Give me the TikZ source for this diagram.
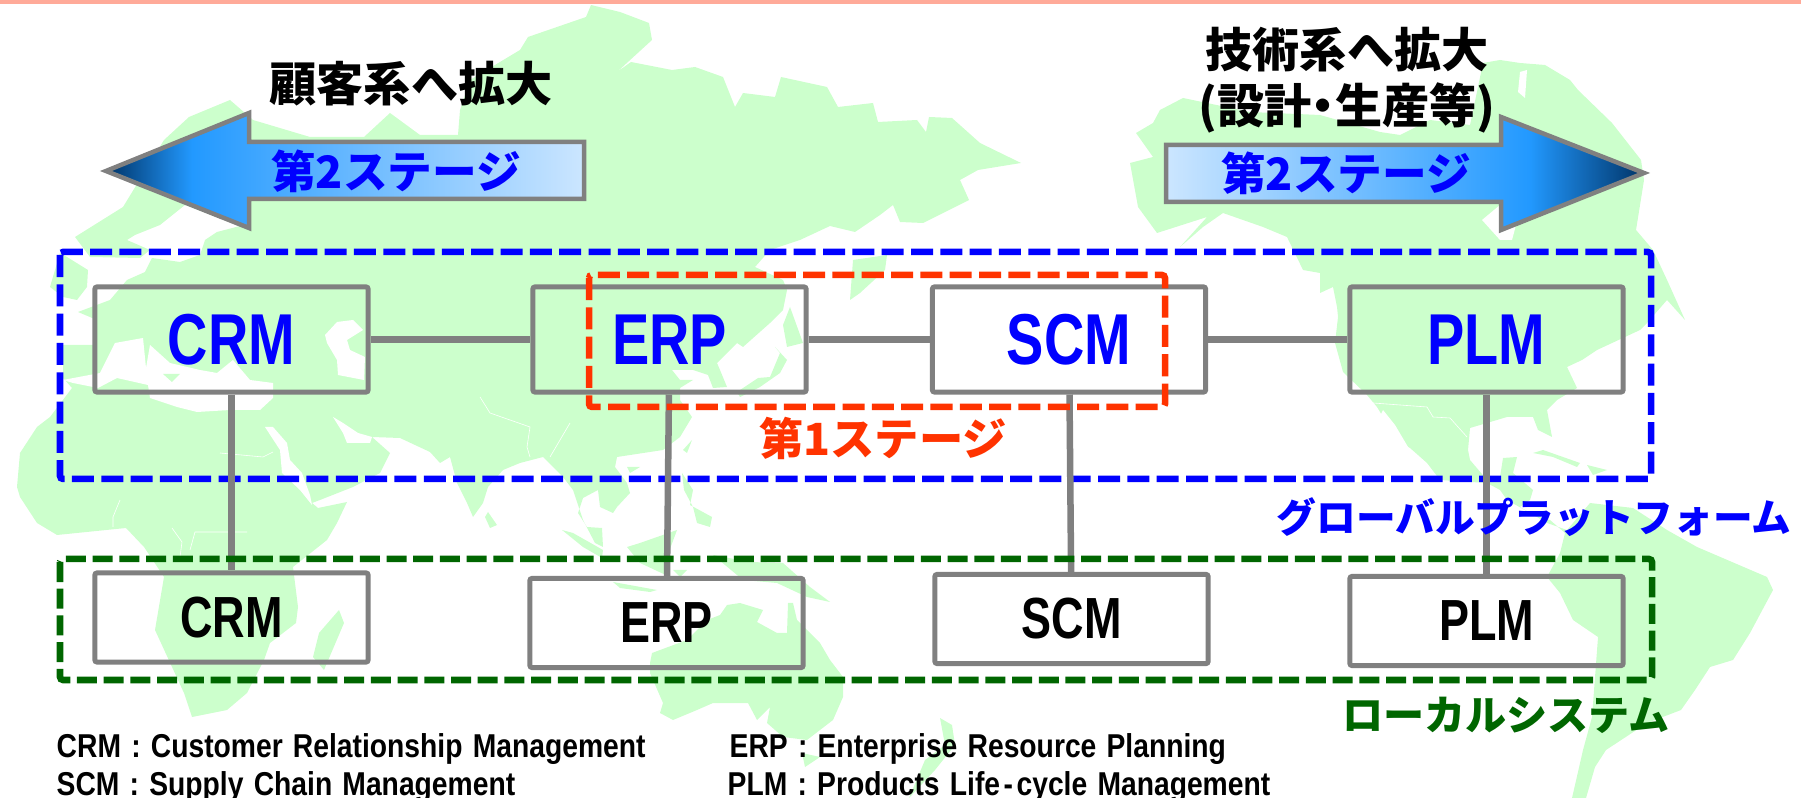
\documentclass[tikz,border=0pt]{standalone}
\usepackage{fontspec}
\setmainfont{Liberation Sans}
\newfontfamily\cjkfont[BoldFont={Noto Sans CJK JP Black}]{Noto Sans CJK JP}
\newfontfamily\narrowfont[FakeStretch=0.775]{Liberation Sans}
\newfontfamily\footfont[FakeStretch=0.855,WordSpace=1.3]{Liberation Sans}
\definecolor{landgreen}{HTML}{CCFFCC}
\definecolor{topband}{HTML}{FFAA99}
\definecolor{boxgray}{HTML}{808080}
\definecolor{stagered}{HTML}{FF3300}
\definecolor{localgreen}{HTML}{006600}
\definecolor{tipnavy}{HTML}{003366}
\definecolor{midblue}{HTML}{2299FF}
\definecolor{paleblue}{HTML}{CCE6FF}
\pgfdeclarehorizontalshading{stageleft}{100bp}{color(0bp)=(tipnavy); color(25bp)=(tipnavy); color(34bp)=(midblue); color(75bp)=(paleblue); color(100bp)=(paleblue)}
\pgfdeclarehorizontalshading{stageright}{100bp}{color(0bp)=(paleblue); color(25bp)=(paleblue); color(63bp)=(midblue); color(75bp)=(tipnavy); color(100bp)=(tipnavy)}
\tikzset{
  land/.style={fill=landgreen},
  sea/.style={fill=white},
  border/.style={draw=white, line width=0.006cm},
  sysbox/.style={draw=boxgray, line width=0.05cm, rounded corners=0.02cm, minimum width=2.73cm, inner sep=0pt},
  globalbox/.style={sysbox, minimum height=1.05cm, text=blue, font=\narrowfont\bfseries\fontsize{20.5pt}{20.5pt}\selectfont},
  localbox/.style={sysbox, minimum height=0.89cm, font=\narrowfont\bfseries\fontsize{16.5pt}{16.5pt}\selectfont},
  link/.style={draw=boxgray, line width=0.065cm},
  frame/.style={line width=0.065cm, rounded corners=0.03cm, dash pattern=on 0.22cm off 0.073cm},
  stagearrow/.style={draw=boxgray, line width=0.045cm},
  cjklabel/.style={inner sep=0pt, font=\cjkfont\bfseries\fontsize{#1}{#1}\selectfont},
  footnote/.style={inner sep=0pt, anchor=base west, font=\footfont\bfseries\fontsize{9.4pt}{9.4pt}\selectfont}
}
\begin{document}
\begin{tikzpicture}[x=0.01cm,y=-0.01cm]
\useasboundingbox (0,0) rectangle (1801,798);
\fill[topband] (0,0) rectangle (1801,4);

% world map
\fill[land] plot coordinates {(123,207) (164,140) (189,117) (230,100) (253,120) (310,137) (364,137) (390,113) (420,135) (458,135) (460,110) (470,80) (520,50) (528,37) (586,17) (591,5) (620,12) (649,23) (652,40) (617,72) (631,62) (672,70) (695,67) (723,77) (735,107) (743,93) (775,97) (781,77) (827,87) (838,107) (873,103) (878,122) (917,120) (926,132) (929,117) (952,118) (980,143) (1021,163) (978,170) (960,180) (969,200) (923,223) (900,222) (893,205) (880,215) (855,232) (830,226) (800,240) (770,250) (755,267) (783,280) (787,290) (783,310) (770,323) (743,347) (737,343) (717,363) (720,370) (727,387) (713,388) (708,375) (693,370) (672,370) (680,380) (693,380) (680,388) (680,400) (692,417) (680,437) (663,450) (617,457) (615,467) (627,483) (630,493) (617,507) (613,513) (600,507) (598,490) (583,498) (578,513) (587,527) (602,528) (603,547) (595,543) (583,520) (573,490) (563,477) (543,457) (520,463) (503,470) (488,487) (483,503) (473,517) (467,503) (457,483) (450,457) (440,463) (430,452) (400,438) (372,437) (390,453) (380,473) (353,487) (320,500) (312,503) (318,508) (347,502) (337,523) (327,540) (293,567) (298,607) (296,623) (270,643) (264,660) (247,693) (227,710) (192,717) (184,693) (155,630) (164,577) (144,547) (126,528) (57,535) (37,523) (20,497) (17,487) (20,453) (37,427) (50,417) (72,388) (63,378) (63,345) (93,345) (97,320) (78,312) (110,300) (127,280) (145,272) (152,258) (180,262) (200,255) (205,240) (217,232) (240,226) (185,205) (160,225) (135,235) (127,240) (150,250) (140,258) (90,257) (75,237)} -- cycle;
\fill[land] plot coordinates {(50,287) (60,253) (67,257) (88,270) (87,287) (77,300) (63,297)} -- cycle; % britain
\fill[sea] plot coordinates {(63,380) (100,373) (110,353) (115,343) (143,338) (146,368) (150,345) (170,363) (200,370) (217,373) (233,360) (250,380) (273,383) (273,398) (260,410) (230,410) (197,412) (177,407) (150,398) (148,385) (117,378) (98,388) (73,383)} -- cycle;
\fill[land] plot coordinates {(163,374) (180,374) (172,382)} -- cycle;
\fill[sea] plot coordinates {(325,335) (337,322) (353,320) (363,330) (347,340) (350,350) (365,357) (364,380) (338,375) (337,360) (327,343)} -- cycle;
\fill[sea] plot coordinates {(265,427) (273,427) (287,443) (290,460) (302,473) (310,495) (312,505) (300,490) (282,473) (280,450)} -- cycle;
\fill[sea] plot coordinates {(333,417) (343,423) (358,433) (372,437) (370,443) (347,443) (343,433)} -- cycle;
\fill[land] plot coordinates {(339,610) (344,623) (324,670) (313,657) (319,633)} -- cycle; % madagascar
\fill[land] plot coordinates {(488,512) (497,525) (490,528) (485,517)} -- cycle;
\fill[land] plot coordinates {(790,307) (803,343) (787,347) (783,325)} -- cycle; % japan
\fill[land] plot coordinates {(775,347) (787,360) (780,373) (760,387) (740,397) (737,392) (758,378) (770,377) (780,353)} -- cycle;
\fill[land] plot coordinates {(853,260) (887,255) (885,270) (860,293) (850,300)} -- cycle;
\fill[land] plot coordinates {(683,450) (692,440) (687,453)} -- cycle;
\fill[land] plot coordinates {(627,467) (640,467) (630,473)} -- cycle;
\fill[land] plot coordinates {(682,473) (693,490) (690,505) (712,517) (710,527) (697,523) (693,507) (684,490)} -- cycle;
\fill[land] plot coordinates {(562,530) (573,533) (603,550) (602,558) (583,547)} -- cycle; % sumatra
\fill[land] plot coordinates {(613,582) (657,590) (650,592) (620,588)} -- cycle;
\fill[land] plot coordinates {(627,547) (640,543) (677,530) (667,557) (670,577) (640,563)} -- cycle;
\fill[land] plot coordinates {(673,570) (687,570) (680,577)} -- cycle;
\fill[land] plot coordinates {(713,555) (750,562) (783,563) (810,587) (830,602) (807,597) (777,583) (743,580)} -- cycle;
\fill[land] plot coordinates {(650,663) (652,653) (687,640) (707,620) (720,615) (727,605) (740,603) (763,610) (757,622) (777,633) (787,633) (788,603) (793,603) (797,620) (820,643) (830,660) (843,677) (843,697) (833,720) (807,740) (783,737) (767,723) (770,707) (757,720) (748,703) (713,703) (697,710) (673,720) (660,713) (663,703) (650,673)} -- cycle; % australia
\fill[land] plot coordinates {(802,753) (820,757) (805,767)} -- cycle;
\fill[land] plot coordinates {(940,718) (952,725) (955,745) (935,770) (909,798) (925,760) (945,745)} -- cycle;
% americas
\fill[land] plot coordinates {(1136,133) (1153,123) (1160,110) (1183,98) (1250,112) (1320,115) (1380,132) (1400,135) (1430,120) (1470,125) (1483,63) (1500,60) (1520,63) (1545,65) (1570,80) (1578,90) (1612,123) (1641,160) (1644,180) (1636,230) (1653,250) (1667,280) (1685,320) (1667,300) (1647,323) (1640,330) (1597,350) (1582,360) (1567,367) (1577,388) (1557,400) (1547,410) (1552,437) (1538,430) (1533,417) (1507,417) (1470,428) (1468,450) (1470,460) (1487,480) (1500,477) (1503,458) (1517,457) (1513,473) (1533,490) (1530,500) (1520,507) (1547,523) (1567,530) (1590,503) (1633,508) (1667,530) (1697,547) (1767,577) (1773,590) (1750,633) (1733,660) (1710,667) (1695,690) (1681,710) (1647,723) (1606,750) (1595,767) (1586,798) (1572,798) (1583,750) (1592,717) (1598,637) (1573,620) (1560,593) (1547,577) (1560,553) (1565,533) (1550,520) (1530,513) (1507,500) (1500,490) (1487,483) (1440,480) (1427,463) (1410,448) (1397,440) (1377,407) (1367,395) (1343,372) (1335,343) (1338,317) (1337,307) (1333,287) (1320,293) (1320,273) (1303,270) (1287,237) (1263,227) (1223,213) (1203,227) (1180,247) (1207,217) (1157,233) (1138,207) (1130,163) (1153,157)} -- cycle;
\fill[sea] plot coordinates {(1482,220) (1500,205) (1520,210) (1512,240) (1500,240)} -- cycle; % hudson bay
\fill[sea] plot coordinates {(1520,72) (1527,70) (1525,98) (1518,92)} -- cycle;
\fill[sea] plot coordinates {(1383,410) (1395,425) (1408,447) (1405,450) (1390,435) (1378,420)} -- cycle;
\fill[land] plot coordinates {(1533,453) (1543,450) (1580,463) (1577,467) (1553,457)} -- cycle;
\fill[land] plot coordinates {(1587,465) (1607,470) (1593,475)} -- cycle;
% borders
\draw[border] (220,453) -- (263,457) -- (273,452);
\draw[border] (120,500) -- (113,517) -- (113,527);
\draw[border] (172,528) -- (182,542) -- (180,557);
\draw[border] (190,550) -- (195,532) -- (247,532);
\draw[border] (480,397) -- (490,413) -- (530,427) -- (527,447) -- (530,457);
\draw[border] (570,423) -- (550,457);
\draw[border] (1373,403) -- (1427,407) -- (1433,417) -- (1450,418) -- (1467,437);

\draw[blue, frame] (60,252) rectangle (1651,479);

% stage arrows
\path[stagearrow, shading=stageleft] (106,171) -- (249,113) -- (249,142) -- (584,142) -- (584,199) -- (249,199) -- (249,228) -- cycle;
\path[stagearrow, shading=stageright] (1644,173) -- (1501,117) -- (1501,145) -- (1166,145) -- (1166,202) -- (1501,202) -- (1501,230) -- cycle;

\node[cjklabel=13.4pt] (customerlabel) at (411,84) {顧客系へ拡大};
\node[cjklabel=13.4pt] (techlabel) at (1347,50) {技術系へ拡大};
\node[cjklabel=13.4pt] (techsublabel) at (1347,108) {(設計\kern-.25em・\kern-.25em生産等)};
\node[cjklabel=12.7pt, text=blue] (stageleftlabel) at (396,171) {第2ステージ};
\node[cjklabel=12.7pt, text=blue] (stagerightlabel) at (1346,173) {第2ステージ};

% global platform
\node[globalbox] (crmglobal) at (231.5,339.5) {CRM};
\node[globalbox] (erpglobal) at (669.5,339.5) {ERP};
\node[globalbox] (scmglobal) at (1069,339.5) {SCM};
\node[globalbox] (plmglobal) at (1486.5,339.5) {PLM};

% local systems
\node[localbox] (crmlocal) at (231.5,617.5) {CRM};
\node[localbox] (erplocal) at (666.5,623) {ERP};
\node[localbox] (scmlocal) at (1071.5,619) {SCM};
\node[localbox] (plmlocal) at (1486.5,621) {PLM};

\draw[link] (crmglobal) -- (erpglobal);
\draw[link] (erpglobal) -- (scmglobal);
\draw[link] (scmglobal) -- (plmglobal);
\draw[link] (crmglobal) -- (crmlocal);
\draw[link] (erpglobal) -- (erplocal);
\draw[link] (scmglobal) -- (scmlocal);
\draw[link] (plmglobal) -- (plmlocal);

\draw[stagered, frame] (589,275) rectangle (1165,407);
\draw[localgreen, frame, dash pattern=on 0.2cm off 0.067cm] (60,559) rectangle (1652,680);

\node[cjklabel=12.6pt, text=stagered] (stagefirstlabel) at (883,438) {第1ステージ};
\node[cjklabel=11.3pt, text=blue] (platformlabel) at (1534,517) {グローバルプラットフォーム};
\node[cjklabel=11.7pt, text=localgreen] (locallabel) at (1506,715) {ローカルシステム};

\node[footnote] (crmnote) at (56,757) {CRM : Customer Relationship Management};
\node[footnote] (scmnote) at (56,795) {SCM : Supply Chain Management};
\node[footnote] (erpnote) at (729,757) {ERP : Enterprise Resource Planning};
\node[footnote] (plmnote) at (727,795) {PLM : Products Life\kern1pt-\kern1pt cycle Management};
\end{tikzpicture}
\end{document}
